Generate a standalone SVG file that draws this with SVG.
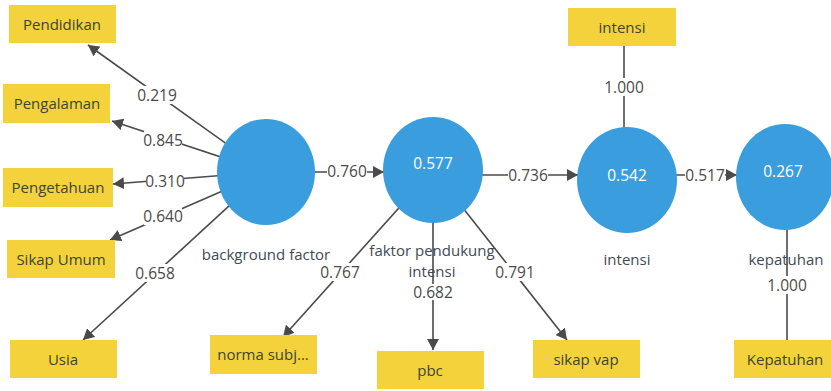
<svg xmlns="http://www.w3.org/2000/svg" width="831" height="391" viewBox="0 0 831 391">
  <style>
    text { font-family: "Open Sans", "Noto Sans", "Liberation Sans", sans-serif; }
    .box { fill: #F4D23C; }
    .box-text { font-size: 15px; fill: #3d4630; text-anchor: middle; dominant-baseline: central; }
    .lv { fill: #3A9DDE; }
    .lv-val { font-size: 15.5px; fill: #ffffff; text-anchor: middle; dominant-baseline: central; }
    .lv-name { font-size: 15px; fill: #3f4a56; text-anchor: middle; }
    .edge { stroke: #4a4a4a; stroke-width: 1.6; fill: none; }
    .arrow { marker-end: url(#tip); }
    .lbl-bg { fill: #ffffff; }
    .lbl { font-size: 15.5px; fill: #4a4a4a; text-anchor: middle; dominant-baseline: central; }
  </style>
  <defs>
    <marker id="tip" markerUnits="userSpaceOnUse" markerWidth="12" markerHeight="12" refX="11" refY="6" orient="auto">
      <path d="M0,0 L11,6 L0,12 Z" fill="#4a4a4a"/>
    </marker>
  </defs>

  <rect width="831" height="391" fill="#ffffff"/>

  <!-- paths and outer loadings -->
  <g id="connectors">
    <line class="edge arrow" x1="266" y1="172" x2="88" y2="45"/>
    <line class="edge arrow" x1="266" y1="172" x2="112" y2="121"/>
    <line class="edge arrow" x1="266" y1="172" x2="113" y2="184"/>
    <line class="edge arrow" x1="266" y1="172" x2="110" y2="240"/>
    <line class="edge arrow" x1="266" y1="172" x2="83" y2="340"/>
    <line class="edge arrow" x1="300" y1="172" x2="384" y2="172"/>
    <line class="edge arrow" x1="433" y1="170" x2="283" y2="337"/>
    <line class="edge arrow" x1="433" y1="170" x2="433" y2="350"/>
    <line class="edge arrow" x1="433" y1="170" x2="567" y2="340"/>
    <line class="edge arrow" x1="470" y1="175" x2="578" y2="175"/>
    <line class="edge arrow" x1="660" y1="175" x2="737" y2="175"/>
    <line class="edge" x1="624" y1="46" x2="624" y2="130"/>
    <line class="edge" x1="787" y1="200" x2="787" y2="340"/>

    <rect class="lbl-bg" x="138" y="86" width="38" height="18"/>
    <text class="lbl" x="157" y="95">0.219</text>
    <rect class="lbl-bg" x="144" y="131" width="38" height="18"/>
    <text class="lbl" x="163" y="140">0.845</text>
    <rect class="lbl-bg" x="146" y="172" width="38" height="18"/>
    <text class="lbl" x="165" y="181">0.310</text>
    <rect class="lbl-bg" x="144" y="207" width="38" height="18"/>
    <text class="lbl" x="163" y="216">0.640</text>
    <rect class="lbl-bg" x="136" y="264" width="38" height="18"/>
    <text class="lbl" x="155" y="273">0.658</text>
    <rect class="lbl-bg" x="327" y="163" width="40" height="18"/>
    <text class="lbl" x="347" y="171">0.760</text>
    <rect class="lbl-bg" x="321" y="263" width="38" height="18"/>
    <text class="lbl" x="340" y="272">0.767</text>
    <rect class="lbl-bg" x="414" y="284" width="38" height="16"/>
    <text class="lbl" x="433" y="292">0.682</text>
    <rect class="lbl-bg" x="496" y="263" width="38" height="18"/>
    <text class="lbl" x="515" y="272">0.791</text>
    <rect class="lbl-bg" x="508" y="166" width="40" height="18"/>
    <text class="lbl" x="528" y="175">0.736</text>
    <rect class="lbl-bg" x="685" y="166" width="40" height="18"/>
    <text class="lbl" x="705" y="175">0.517</text>
    <rect class="lbl-bg" x="604" y="78" width="40" height="18"/>
    <text class="lbl" x="624" y="87">1.000</text>
    <rect class="lbl-bg" x="767" y="276" width="40" height="18"/>
    <text class="lbl" x="787" y="285">1.000</text>
  </g>

  <!-- indicators -->
  <g id="ind-pendidikan">
    <rect class="box" x="9" y="5" width="107" height="38"/>
    <text class="box-text" x="62" y="24">Pendidikan</text>
  </g>
  <g id="ind-pengalaman">
    <rect class="box" x="3" y="84" width="107" height="39"/>
    <text class="box-text" x="57" y="103">Pengalaman</text>
  </g>
  <g id="ind-pengetahuan">
    <rect class="box" x="3" y="168" width="110" height="39"/>
    <text class="box-text" x="58" y="187">Pengetahuan</text>
  </g>
  <g id="ind-sikap-umum">
    <rect class="box" x="7" y="240" width="108" height="38"/>
    <text class="box-text" x="61" y="259">Sikap Umum</text>
  </g>
  <g id="ind-usia">
    <rect class="box" x="10" y="340" width="107" height="38"/>
    <text class="box-text" x="63" y="359">Usia</text>
  </g>
  <g id="ind-norma">
    <rect class="box" x="210" y="335" width="107" height="39"/>
    <text class="box-text" x="263" y="354">norma subj...</text>
  </g>
  <g id="ind-pbc">
    <rect class="box" x="377" y="351" width="107" height="38"/>
    <text class="box-text" x="430" y="370">pbc</text>
  </g>
  <g id="ind-sikap-vap">
    <rect class="box" x="533" y="340" width="107" height="38"/>
    <text class="box-text" x="586" y="359">sikap vap</text>
  </g>
  <g id="ind-intensi">
    <rect class="box" x="568" y="8" width="108" height="38"/>
    <text class="box-text" x="622" y="27">intensi</text>
  </g>
  <g id="ind-kepatuhan">
    <rect class="box" x="734" y="340" width="107" height="38"/>
    <text class="box-text" x="785" y="359">Kepatuhan</text>
  </g>

  <!-- latent variables -->
  <g id="lv-background">
    <ellipse class="lv" cx="266" cy="172" rx="49" ry="53"/>
    <text class="lv-name" x="266" y="260">background factor</text>
  </g>
  <g id="lv-faktor">
    <ellipse class="lv" cx="433" cy="170" rx="50" ry="53"/>
    <text class="lv-val" x="433" y="163">0.577</text>
    <text class="lv-name" x="432" y="256">faktor pendukung</text>
    <text class="lv-name" x="432" y="277">intensi</text>
  </g>
  <g id="lv-intensi">
    <ellipse class="lv" cx="627" cy="180" rx="50" ry="53"/>
    <text class="lv-val" x="627" y="175">0.542</text>
    <text class="lv-name" x="627" y="265">intensi</text>
  </g>
  <g id="lv-kepatuhan">
    <ellipse class="lv" cx="785" cy="177" rx="49" ry="53"/>
    <text class="lv-val" x="783" y="171">0.267</text>
    <text class="lv-name" x="786" y="265">kepatuhan</text>
  </g>
</svg>
